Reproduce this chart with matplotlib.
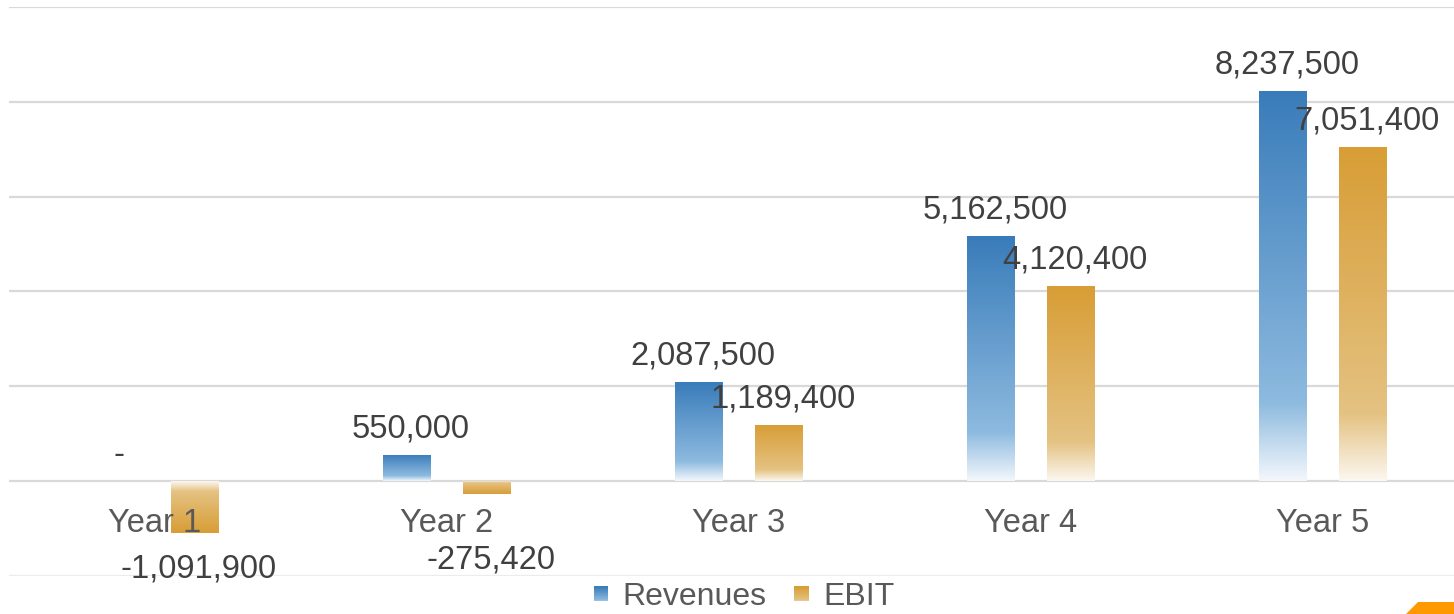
import numpy as np
import matplotlib
matplotlib.use("Agg")
from matplotlib import pyplot as plt
from matplotlib.colors import LinearSegmentedColormap
from matplotlib.patches import Rectangle, Polygon
from matplotlib.legend_handler import HandlerBase

# data
years = ['Year 1', 'Year 2', 'Year 3', 'Year 4', 'Year 5']
revenues = [0, 550000, 2087500, 5162500, 8237500]
ebit = [-1091900, -275420, 1189400, 4120400, 7051400]
series_names = ['Revenues', 'EBIT']

# style
plt.rcParams['font.family'] = ['Liberation Sans', 'DejaVu Sans']
fs = 23.5
blue = LinearSegmentedColormap.from_list(
    'blue', [(0.0, '#f3f7fc'), (0.2, '#8dbadf'), (1.0, '#397cba')])
gold = LinearSegmentedColormap.from_list(
    'gold', [(0.0, '#fcf7f0'), (0.2, '#e4c282'), (1.0, '#d89d35')])

W, H = 1454, 614
fig = plt.figure(figsize=(W / 100, H / 100), dpi=100)
ax = fig.add_axes([9 / W, (H - 576) / H, 1460 / W, 569 / H])
ax.set_xlim(-0.5, 4.5)
ax.set_ylim(-2e6, 10e6)

# gridlines behind the bars
for yv in np.arange(-2e6, 10.01e6, 2e6):
    c = '#ececec' if yv < 0 else '#d9d9d9'
    ax.axhline(yv, color=c, lw=1.6, zorder=0)

x = np.arange(len(years))
bw = 0.164
off = 0.137


def grad_bar(xc, val, cmap):
    rect = ax.bar(xc, val, bw, color='none', edgecolor='none', zorder=1)[0]
    t = np.linspace(0, 1, 256).reshape(-1, 1)
    if val < 0:
        t = t[::-1]
    lo, hi = min(0, val), max(0, val)
    im = ax.imshow(t, cmap=cmap, vmin=0, vmax=1, aspect='auto', origin='lower',
                   extent=(xc - bw / 2, xc + bw / 2, lo, hi), zorder=1,
                   interpolation='bilinear')
    im.set_clip_path(rect)


def px_height(val):
    return abs(ax.transData.transform((0, val))[1] - ax.transData.transform((0, 0))[1])


def label(xc, val):
    txt = '-' if val == 0 else f'{val:,.0f}'
    if val >= 0:
        dy = 26
    else:
        dy = -max(36, 79 - px_height(val))
    ax.annotate(txt, (xc, val), xytext=(4, dy), textcoords='offset pixels',
                ha='center', va='center', fontsize=fs, color='#404040', zorder=4)


for i in range(len(years)):
    grad_bar(x[i] - off, revenues[i], blue)
    grad_bar(x[i] + off, ebit[i], gold)
    label(x[i] - off, revenues[i])
    label(x[i] + off, ebit[i])

ax.set_xlim(-0.5, 4.5)
ax.set_ylim(-2e6, 10e6)

# category labels sit under the zero line, on top of the bars
ax.set_axisbelow(False)
ax.spines['bottom'].set_position(('data', 0))
for s in ['top', 'right', 'left', 'bottom']:
    ax.spines[s].set_visible(False)
ax.set_yticks([])
ax.set_xticks(x)
ax.set_xticklabels(years, fontsize=fs, color='#595959')
ax.tick_params(axis='x', length=0, pad=19)
ax.xaxis.set_zorder(3)
ax.patch.set_visible(False)


class GradHandler(HandlerBase):
    def __init__(self, cmap):
        super().__init__()
        self.cmap = cmap

    def create_artists(self, legend, orig_handle, xdescent, ydescent,
                       width, height, fontsize, trans):
        side = 10.5
        x0 = -xdescent
        y0 = -ydescent + (height - side) / 2
        n = 14
        arts = []
        for k in range(n):
            r = Rectangle((x0, y0 + k * side / n), side, side / n + 0.05,
                          facecolor=self.cmap(0.15 + 0.85 * (k + 0.5) / n),
                          edgecolor='none', transform=trans)
            arts.append(r)
        return arts


h1 = Rectangle((0, 0), 1, 1)
h2 = Rectangle((0, 0), 1, 1)
leg = fig.legend([h1, h2], series_names, loc='center',
                 bbox_to_anchor=(744 / W, 17 / H), ncol=2, frameon=False,
                 fontsize=23, handlelength=0.46, handleheight=0.7,
                 handletextpad=0.45, columnspacing=0.85, borderpad=0.1,
                 handler_map={h1: GradHandler(blue), h2: GradHandler(gold)})
for t in leg.get_texts():
    t.set_color('#595959')

# little orange corner tab
fig.patches.append(Polygon([(1406 / W, 0), (1418 / W, 12 / H), (1, 12 / H), (1, 0)],
                           closed=True, facecolor='#ff9900', edgecolor='none',
                           transform=fig.transFigure))

fig.savefig('out.png', dpi=100, facecolor='white')
